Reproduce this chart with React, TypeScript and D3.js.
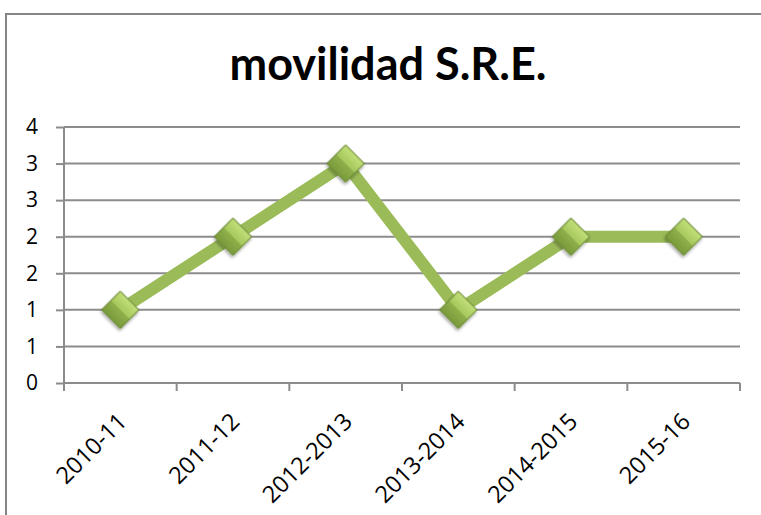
import { useEffect, useRef } from "react";
import * as d3 from "d3";

const categories = ["2010-11", "2011-12", "2012-2013", "2013-2014", "2014-2015", "2015-16"];
const values = [1, 2, 3, 1, 2, 2];
const yTicks = [0, 0.5, 1, 1.5, 2, 2.5, 3, 3.5];
const yTickLabels = ["0", "1", "1", "2", "2", "3", "3", "4"];
const title = "movilidad S.R.E.";

const W = 761;
const H = 515;

const App = () => {
  const ref = useRef(null);

  useEffect(() => {
    const margin = { top: 127, right: 21, bottom: 132, left: 64 };
    const width = W - margin.left - margin.right;
    const height = H - margin.top - margin.bottom;
    const font = "'Open Sans', sans-serif";

    const root = d3.select(ref.current).html("");

    const defs = root.append("defs");
    const grad = defs
      .append("linearGradient")
      .attr("id", "mk")
      .attr("x1", "0")
      .attr("y1", "0")
      .attr("x2", "0")
      .attr("y2", "1");
    grad.append("stop").attr("offset", "0%").attr("stop-color", "#c3e07a");
    grad.append("stop").attr("offset", "50%").attr("stop-color", "#a5c75c");
    grad.append("stop").attr("offset", "50%").attr("stop-color", "#8fb04a");
    grad.append("stop").attr("offset", "100%").attr("stop-color", "#7a9a3c");
    const filt = defs.append("filter").attr("id", "sh").attr("x", "-50%").attr("y", "-50%").attr("width", "200%").attr("height", "200%");
    filt
      .append("feDropShadow")
      .attr("dx", 1)
      .attr("dy", 2)
      .attr("stdDeviation", 1.5)
      .attr("flood-color", "#000")
      .attr("flood-opacity", 0.35);

    // outer chart border
    root
      .append("rect")
      .attr("x", 6)
      .attr("y", 14)
      .attr("width", W + 20)
      .attr("height", H + 20)
      .attr("fill", "white")
      .attr("stroke", "#868686")
      .attr("stroke-width", 2);

    root
      .append("text")
      .attr("x", 388)
      .attr("y", 80)
      .attr("text-anchor", "middle")
      .attr("font-family", "Lato, sans-serif")
      .attr("font-weight", "bold")
      .attr("font-size", 45)
      .attr("fill", "#000")
      .text(title);

    const svg = root.append("g").attr("transform", `translate(${margin.left},${margin.top})`);

    const x = d3.scaleBand().domain(categories).range([0, width]);
    const y = d3.scaleLinear().domain([0, 3.5]).range([height, 0]);

    // gridlines
    svg
      .selectAll(".grid")
      .data(yTicks.filter((t) => t > 0))
      .enter()
      .append("line")
      .attr("x1", 0)
      .attr("x2", width)
      .attr("y1", (d) => y(d))
      .attr("y2", (d) => y(d))
      .attr("stroke", "#8c8c8c")
      .attr("stroke-width", 2);

    // y axis
    const yAxis = svg
      .append("g")
      .call(
        d3
          .axisLeft(y)
          .tickValues(yTicks)
          .tickSize(8)
          .tickPadding(18)
          .tickFormat((d, i) => yTickLabels[i])
      );
    yAxis.select(".domain").attr("stroke", "#8c8c8c").attr("stroke-width", 2).attr("d", `M0,${height}V0`);
    yAxis.selectAll(".tick line").attr("stroke", "#8c8c8c").attr("stroke-width", 2);
    yAxis
      .selectAll(".tick text")
      .attr("font-family", font)
      .attr("font-size", 21)
      .attr("fill", "#000");

    // x axis
    const xAxis = svg
      .append("g")
      .attr("transform", `translate(0,${height})`)
      .call(d3.axisBottom(x).tickSize(0).tickFormat(() => ""));
    xAxis.select(".domain").attr("stroke", "#8c8c8c").attr("stroke-width", 2).attr("d", `M0,0H${width}`);
    xAxis
      .selectAll(".xt")
      .data(d3.range(categories.length + 1))
      .enter()
      .append("line")
      .attr("x1", (i) => i * x.step())
      .attr("x2", (i) => i * x.step())
      .attr("y1", 0)
      .attr("y2", 8)
      .attr("stroke", "#8c8c8c")
      .attr("stroke-width", 2);
    xAxis
      .selectAll(".xl")
      .data(categories)
      .enter()
      .append("text")
      .attr("text-anchor", "end")
      .attr("font-family", font)
      .attr("font-size", 23.5)
      .attr("fill", "#000")
      .attr("transform", (d) => `translate(${x(d) + x.bandwidth() / 2 + 8},${40}) rotate(-45)`)
      .text((d) => d);

    const cx = (i) => x(categories[i]) + x.bandwidth() / 2;

    // line
    const line = d3
      .line()
      .x((d, i) => cx(i))
      .y((d) => y(d));
    svg
      .append("path")
      .datum(values)
      .attr("d", line)
      .attr("fill", "none")
      .attr("stroke", "#9bbb59")
      .attr("stroke-width", 12)
      .attr("stroke-linejoin", "miter");

    // markers
    const sym = d3.symbol().type(d3.symbolSquare).size(690);
    svg
      .selectAll(".mk")
      .data(values)
      .enter()
      .append("path")
      .attr("d", sym)
      .attr("transform", (d, i) => `translate(${cx(i)},${y(d)}) rotate(45)`)
      .attr("fill", "url(#mk)")
      .attr("stroke", "#6a8a34")
      .attr("stroke-width", 1)
      .attr("filter", "url(#sh)");
  }, []);

  return (
    <svg
      ref={ref}
      width={W}
      height={H}
      style={{ position: "absolute", left: 0, top: 0, background: "white" }}
    ></svg>
  );
};

export default App;
